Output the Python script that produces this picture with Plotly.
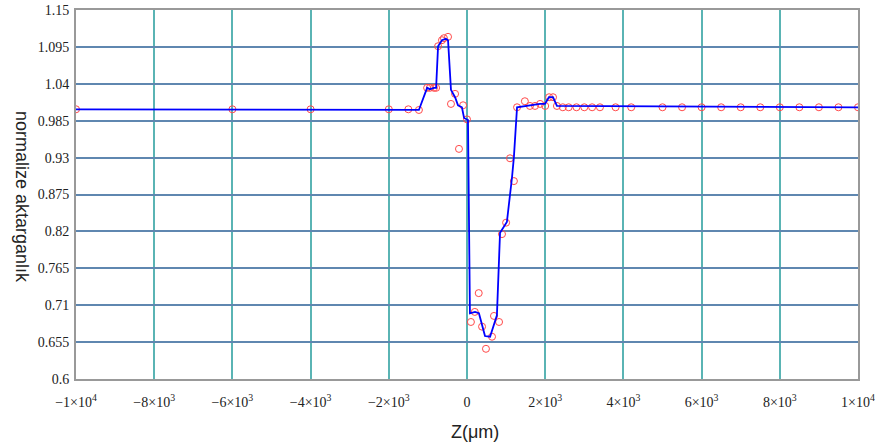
import plotly.graph_objects as go

# Fitted curve (blue line)
line_x = [-10000, -1230, -1020, -950, -845, -790, -740, -640, -540, -485, -410, -305, -230, -130, -75, 25, 75, 205, 305, 460, 590, 765, 845, 1020, 1150, 1200, 1280, 1610, 1865, 1995, 2095, 2200, 2300, 10000]
line_y = [1.002, 1.001, 1.034, 1.032, 1.034, 1.034, 1.096, 1.105, 1.107, 1.105, 1.031, 1.020, 1.008, 1.005, 0.989, 0.986, 0.698, 0.700, 0.698, 0.664, 0.663, 0.695, 0.818, 0.834, 0.900, 0.931, 1.005, 1.008, 1.010, 1.010, 1.020, 1.020, 1.007, 1.005]

# Measured points (red circles)
pts_x = [-10000, -6000, -4000, -2000, -1500, -1230, -1020, -950, -845, -790, -740, -640, -590, -485, -410, -305, -205, -100, 0, 100, 200, 300, 385, 485, 640, 690, 820, 895, 1000, 1100, 1200, 1280, 1480, 1610, 1740, 1870, 2000, 2100, 2200, 2300, 2450, 2600, 2800, 3000, 3200, 3400, 3800, 4200, 5000, 5500, 6000, 6500, 7000, 7500, 8000, 8500, 9000, 9500, 10000]
pts_y = [1.002, 1.002, 1.002, 1.002, 1.002, 1.001, 1.034, 1.034, 1.034, 1.034, 1.096, 1.105, 1.108, 1.110, 1.010, 1.025, 0.943, 1.008, 0.987, 0.685, 0.700, 0.728, 0.678, 0.645, 0.663, 0.694, 0.685, 0.816, 0.833, 0.929, 0.895, 1.005, 1.014, 1.007, 1.007, 1.010, 1.007, 1.020, 1.020, 1.007, 1.005, 1.005, 1.005, 1.005, 1.005, 1.005, 1.005, 1.005, 1.005, 1.005, 1.005, 1.005, 1.005, 1.005, 1.005, 1.005, 1.005, 1.005, 1.005]

x_tickvals = [-10000, -8000, -6000, -4000, -2000, 0, 2000, 4000, 6000, 8000, 10000]
x_ticktext = ["\u22121\u00d710<sup>4</sup>", "\u22128\u00d710<sup>3</sup>", "\u22126\u00d710<sup>3</sup>",
              "\u22124\u00d710<sup>3</sup>", "\u22122\u00d710<sup>3</sup>", "0",
              "2\u00d710<sup>3</sup>", "4\u00d710<sup>3</sup>", "6\u00d710<sup>3</sup>",
              "8\u00d710<sup>3</sup>", "1\u00d710<sup>4</sup>"]
y_tickvals = [0.6, 0.655, 0.71, 0.765, 0.82, 0.875, 0.93, 0.985, 1.04, 1.095, 1.15]
y_ticktext = ["0.6", "0.655", "0.71", "0.765", "0.82", "0.875", "0.93", "0.985", "1.04", "1.095", "1.15"]

x_title = "Z(\u03bcm)"
y_title = "normalize aktarganl\u0131k"

serif = "Liberation Serif, Times New Roman, serif"
tickfont = dict(family=serif, size=14, color="#222222")

fig = go.Figure()
fig.add_trace(go.Scatter(x=pts_x, y=pts_y, mode="markers",
                         marker=dict(symbol="circle-open", size=7, color="#ff4a4a", line=dict(width=1)),
                         showlegend=False))
fig.add_trace(go.Scatter(x=line_x, y=line_y, mode="lines",
                         line=dict(color="#0000ff", width=1.8), showlegend=False))

fig.update_layout(
    width=875, height=447,
    margin=dict(l=76, r=17, t=10, b=68),
    paper_bgcolor="white", plot_bgcolor="white",
    font=dict(family=serif, size=14, color="#222222"),
    xaxis=dict(range=[-10000, 10000], tickvals=x_tickvals, ticktext=x_ticktext, tickfont=tickfont,
               showgrid=True, gridcolor="#5ab4b4", gridwidth=1.5,
               showline=True, linecolor="#999999", linewidth=2, mirror=True,
               ticks="outside", ticklen=9, tickcolor="rgba(0,0,0,0)",
               zeroline=False, automargin=False),
    yaxis=dict(range=[0.6, 1.15], tickvals=y_tickvals, ticktext=y_ticktext, tickfont=tickfont,
               showgrid=True, gridcolor="#5f87b0", gridwidth=1.5,
               showline=True, linecolor="#999999", linewidth=2, mirror=True,
               ticks="outside", ticklen=2, tickcolor="rgba(0,0,0,0)",
               zeroline=False, automargin=False),
    annotations=[
        dict(text=x_title, xref="paper", yref="paper", x=(475 - 76) / 782, y=0,
             yshift=-53, xanchor="center", yanchor="middle", showarrow=False,
             font=dict(family="Liberation Sans", size=18, color="#222222")),
        dict(text=y_title, xref="paper", yref="paper", x=0, y=(379 - 197) / 369,
             xshift=-54, xanchor="center", yanchor="middle", showarrow=False, textangle=90,
             font=dict(family="Liberation Sans", size=18, color="#222222")),
    ],
)
fig.write_html("out.html", config={"displayModeBar": False},
               post_script="document.body.style.margin='0';document.body.style.overflow='hidden';")
